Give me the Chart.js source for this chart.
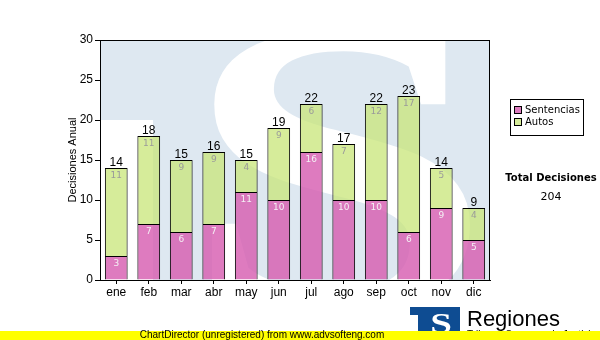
<!DOCTYPE html>
<html>
<head>
<meta charset="utf-8">
<script src="https://cdn.jsdelivr.net/npm/chart.js@4"></script>
<style>
  body { margin: 0; background: #fff; }
  #wrap { width: 600px; height: 340px; }
</style>
</head>
<body>
<div id="wrap"><canvas id="decisiones" width="600" height="340"></canvas></div>
<script>
// Decisiones por mes
const meses = ['ene', 'feb', 'mar', 'abr', 'may', 'jun', 'jul', 'ago', 'sep', 'oct', 'nov', 'dic'];
const sentencias = [3, 7, 6, 7, 11, 10, 16, 10, 10, 6, 9, 5];
const autos = [11, 11, 9, 9, 4, 9, 6, 7, 12, 17, 5, 4];
const yTicks = [0, 5, 10, 15, 20, 25, 30];

const totales = meses.map((m, i) => sentencias[i] + autos[i]);
const totalDecisiones = totales.reduce((a, b) => a + b, 0);

const colores = {
    sentencias: 'rgba(214, 90, 175, 0.8)',
    autos: 'rgba(200, 230, 120, 0.75)',
    sentenciasLeyenda: '#de7cbf',
    autosLeyenda: '#d6ec9a',
    marca: '#dee8f1',
    logo: '#0e4c92'
};

// Fondo: logo grande y claro detrás del área de datos
const marcaAgua = {
    id: 'marcaAgua',
    beforeDatasetsDraw(chart) {
        const { ctx, chartArea: a } = chart;
        ctx.save();
        ctx.beginPath();
        ctx.rect(a.left, a.top, a.right - a.left, a.bottom - a.top);
        ctx.clip();
        ctx.fillStyle = colores.marca;
        ctx.fillRect(a.left, a.top, a.right - a.left, a.bottom - a.top);
        ctx.fillStyle = '#fff';
        ctx.fillRect(a.left, 120, 53, a.bottom - 120);
        ctx.translate(338, 308);
        ctx.scale(1.4, 1.05);
        ctx.font = 'bold 400px "Liberation Serif"';
        ctx.textAlign = 'center';
        ctx.textBaseline = 'alphabetic';
        ctx.fillText('S', 0, 0);
        ctx.restore();
    }
};

// Valores dentro de cada tramo y total encima de la barra
const etiquetas = {
    id: 'etiquetas',
    afterDatasetsDraw(chart) {
        const { ctx } = chart;
        ctx.save();
        ctx.textAlign = 'center';
        ctx.textBaseline = 'middle';
        ctx.font = '9px "DejaVu Sans"';
        const colorTexto = ['#f4f0f4', '#9a9a9a'];
        chart.data.datasets.forEach((ds, d) => {
            chart.getDatasetMeta(d).data.forEach((bar, i) => {
                ctx.fillStyle = colorTexto[d];
                ctx.fillText(String(ds.data[i]), bar.x, bar.y + 8);
            });
        });
        const top = chart.getDatasetMeta(1).data;
        ctx.font = '12px "Liberation Sans"';
        ctx.fillStyle = '#000';
        ctx.textBaseline = 'alphabetic';
        top.forEach((bar, i) => {
            ctx.fillText(String(totales[i]), bar.x, bar.y - 2);
        });
        ctx.restore();
    }
};

// Marco, leyenda, total y pie
const adornos = {
    id: 'adornos',
    afterDraw(chart) {
        const { ctx, chartArea: a } = chart;
        ctx.save();
        ctx.strokeStyle = '#000';
        ctx.lineWidth = 1;
        ctx.strokeRect(a.left + 0.5, a.top + 0.5, a.right - a.left - 1, a.bottom - a.top);

        // leyenda
        ctx.strokeRect(510.5, 99.5, 73, 36);
        const items = [
            ['Sentencias', colores.sentenciasLeyenda],
            ['Autos', colores.autosLeyenda]
        ];
        ctx.font = '10px "DejaVu Sans"';
        ctx.textBaseline = 'middle';
        ctx.textAlign = 'left';
        items.forEach(([txt, col], k) => {
            const y = 110 + k * 12;
            ctx.fillStyle = col;
            ctx.fillRect(514, y - 4, 8, 8);
            ctx.strokeRect(514.5, y - 3.5, 7, 7);
            ctx.fillStyle = '#000';
            ctx.fillText(txt, 525, y);
        });

        ctx.textAlign = 'center';
        ctx.font = 'bold 10px "DejaVu Sans"';
        ctx.fillText('Total Decisiones', 551, 178);
        ctx.font = '11px "DejaVu Sans"';
        ctx.fillText(String(totalDecisiones), 551, 197);

        // logo pequeño
        ctx.fillStyle = colores.logo;
        ctx.fillRect(410, 307, 50, 26);
        ctx.fillStyle = '#fff';
        ctx.fillRect(410, 315, 8, 20);
        ctx.font = 'bold 30px "Liberation Serif"';
        ctx.textBaseline = 'alphabetic';
        ctx.save();
        ctx.translate(441, 333);
        ctx.scale(1.3, 1);
        ctx.fillText('S', 0, 0);
        ctx.restore();
        ctx.fillStyle = '#000';
        ctx.textAlign = 'left';
        ctx.font = '22px "Liberation Sans"';
        ctx.fillText('Regiones', 467, 326);
        ctx.font = '10px "Liberation Sans"';
        ctx.fillText('Tribunal Supremo de Justicia', 467, 338);

        // franja inferior
        ctx.fillStyle = '#ffff00';
        ctx.fillRect(0, 331, 600, 9);
        ctx.fillStyle = '#000';
        ctx.textAlign = 'center';
        ctx.font = '10px "Liberation Sans"';
        ctx.textBaseline = 'middle';
        ctx.fillText('ChartDirector (unregistered) from www.advsofteng.com', 262, 335);
        ctx.restore();
    }
};

const ctx = document.getElementById('decisiones').getContext('2d');
new Chart(ctx, {
    type: 'bar',
    data: {
        labels: meses,
        datasets: [
            {
                label: 'Sentencias',
                data: sentencias,
                backgroundColor: colores.sentencias,
                borderColor: '#000',
                borderWidth: 1
            },
            {
                label: 'Autos',
                data: autos,
                backgroundColor: colores.autos,
                borderColor: '#000',
                borderWidth: 1
            }
        ]
    },
    options: {
        responsive: false,
        animation: false,
        layout: { padding: { left: 60, top: 40, right: 110, bottom: 32 } },
        datasets: { bar: { categoryPercentage: 1, barPercentage: 0.7 } },
        scales: {
            x: {
                stacked: true,
                afterFit: s => { s.height = 28; },
                grid: { display: true, offset: false, drawOnChartArea: false, tickLength: 4, color: '#000' },
                border: { color: '#000' },
                ticks: { color: '#000', font: { family: 'Liberation Sans', size: 12 }, padding: 1 }
            },
            y: {
                stacked: true,
                min: 0,
                max: 30,
                afterFit: s => { s.width = 40; },
                afterBuildTicks: s => { s.ticks = yTicks.map(v => ({ value: v })); },
                grid: { color: '#bdbdbd', tickColor: '#000', tickLength: 5 },
                border: { color: '#000' },
                ticks: { color: '#000', font: { family: 'Liberation Sans', size: 12 }, padding: 2 },
                title: {
                    display: true,
                    text: 'Decisiones Anual',
                    color: '#000',
                    font: { family: 'Liberation Sans', size: 11 },
                    padding: { top: 6, bottom: 0 }
                }
            }
        },
        plugins: {
            legend: { display: false },
            tooltip: { enabled: false }
        }
    },
    plugins: [marcaAgua, etiquetas, adornos]
});
</script>
</body>
</html>
